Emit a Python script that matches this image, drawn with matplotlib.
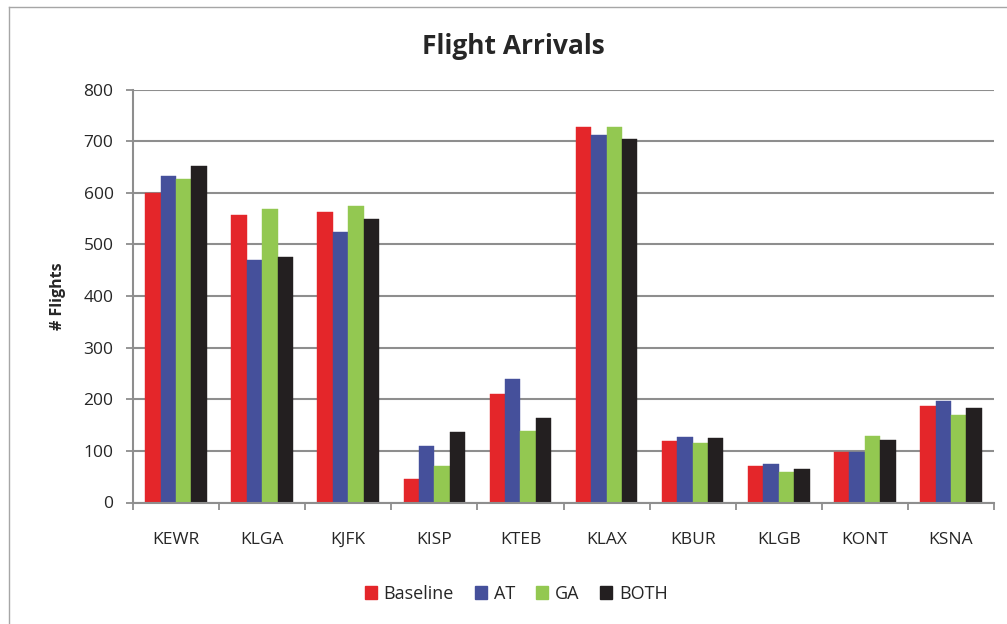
import matplotlib
matplotlib.use("Agg")
import matplotlib.pyplot as plt
import numpy as np
from matplotlib.patches import Patch
from matplotlib.lines import Line2D

plt.rcParams['font.family'] = ['Open Sans', 'DejaVu Sans']

airports = ["KEWR", "KLGA", "KJFK", "KISP", "KTEB", "KLAX", "KBUR", "KLGB", "KONT", "KSNA"]
baseline = [600, 556, 562, 46, 211, 728, 119, 71, 97, 186]
at = [632, 469, 524, 110, 240, 712, 126, 74, 97, 196]
ga = [626, 568, 575, 71, 138, 728, 116, 59, 128, 170]
both = [651, 476, 550, 136, 164, 705, 125, 65, 122, 183]
series_names = ["Baseline", "AT", "GA", "BOTH"]
y_ticks = [0, 100, 200, 300, 400, 500, 600, 700, 800]

colors = ["#E4262A", "#45509B", "#93C851", "#231F20"]
grid_gray = "#8E8E8E"
text_color = "#262626"

W, H = 1007, 624
fig = plt.figure(figsize=(W / 100, H / 100), dpi=100)
fig.patch.set_facecolor("white")

# outer chart frame (top and left edges visible)
fig.add_artist(Line2D([9 / W, 1.0], [1 - 7 / H, 1 - 7 / H], color="#A6A6A6", lw=1.0,
                      transform=fig.transFigure))
fig.add_artist(Line2D([9 / W, 9 / W], [0.0, 1 - 7 / H], color="#A6A6A6", lw=1.0,
                      transform=fig.transFigure))

left, right, top, bottom = 133, 994, 89.5, 502.5
ax = fig.add_axes([left / W, 1 - bottom / H, (right - left) / W, (bottom - top) / H])

x = np.arange(len(airports))
bw = 0.179
for i, (vals, c) in enumerate(zip([baseline, at, ga, both], colors)):
    ax.bar(x + (i - 1.5) * bw, vals, width=bw, color=c, edgecolor=c, linewidth=0.3,
           zorder=3, label=series_names[i])

ax.set_xlim(-0.5, len(airports) - 0.5)
ax.set_ylim(0, 800)
ax.set_yticks(y_ticks)
ax.set_yticklabels([str(t) for t in y_ticks], fontsize=12.5, color=text_color)
ax.set_xticks(x)
ax.set_xticklabels(airports, fontsize=12.5, color=text_color)
ax.set_xticks(np.arange(-0.5, len(airports)), minor=True)
ax.tick_params(axis="x", which="major", length=0, pad=21)
ax.tick_params(axis="x", which="minor", length=5, width=1.3, color=grid_gray, direction="out")
ax.tick_params(axis="y", length=5, width=1.3, color=grid_gray, direction="out", pad=9)

ax.yaxis.grid(True, color=grid_gray, linewidth=1.5, zorder=0)
ax.set_axisbelow(True)
for s in ["top", "right"]:
    ax.spines[s].set_visible(False)
for s in ["left", "bottom"]:
    ax.spines[s].set_color(grid_gray)
    ax.spines[s].set_linewidth(1.5)
    ax.spines[s].set_zorder(4)

ax.set_ylabel("# Flights", fontsize=11.5, fontweight="bold", color=text_color, labelpad=13)

fig.text(513 / W, 1 - 46 / H, "Flight Arrivals", ha="center", va="center",
         fontsize=19, fontweight="bold", color=text_color)

handles = [Patch(facecolor=c, edgecolor=c) for c in colors]
fig.legend(handles, series_names, loc="center", bbox_to_anchor=(516 / W, 1 - 594 / H),
           ncol=4, frameon=False, fontsize=13, handlelength=0.7, handleheight=0.7,
           handletextpad=0.35, columnspacing=1.15, labelcolor=text_color)

fig.savefig("out.png", dpi=100, facecolor="white")
